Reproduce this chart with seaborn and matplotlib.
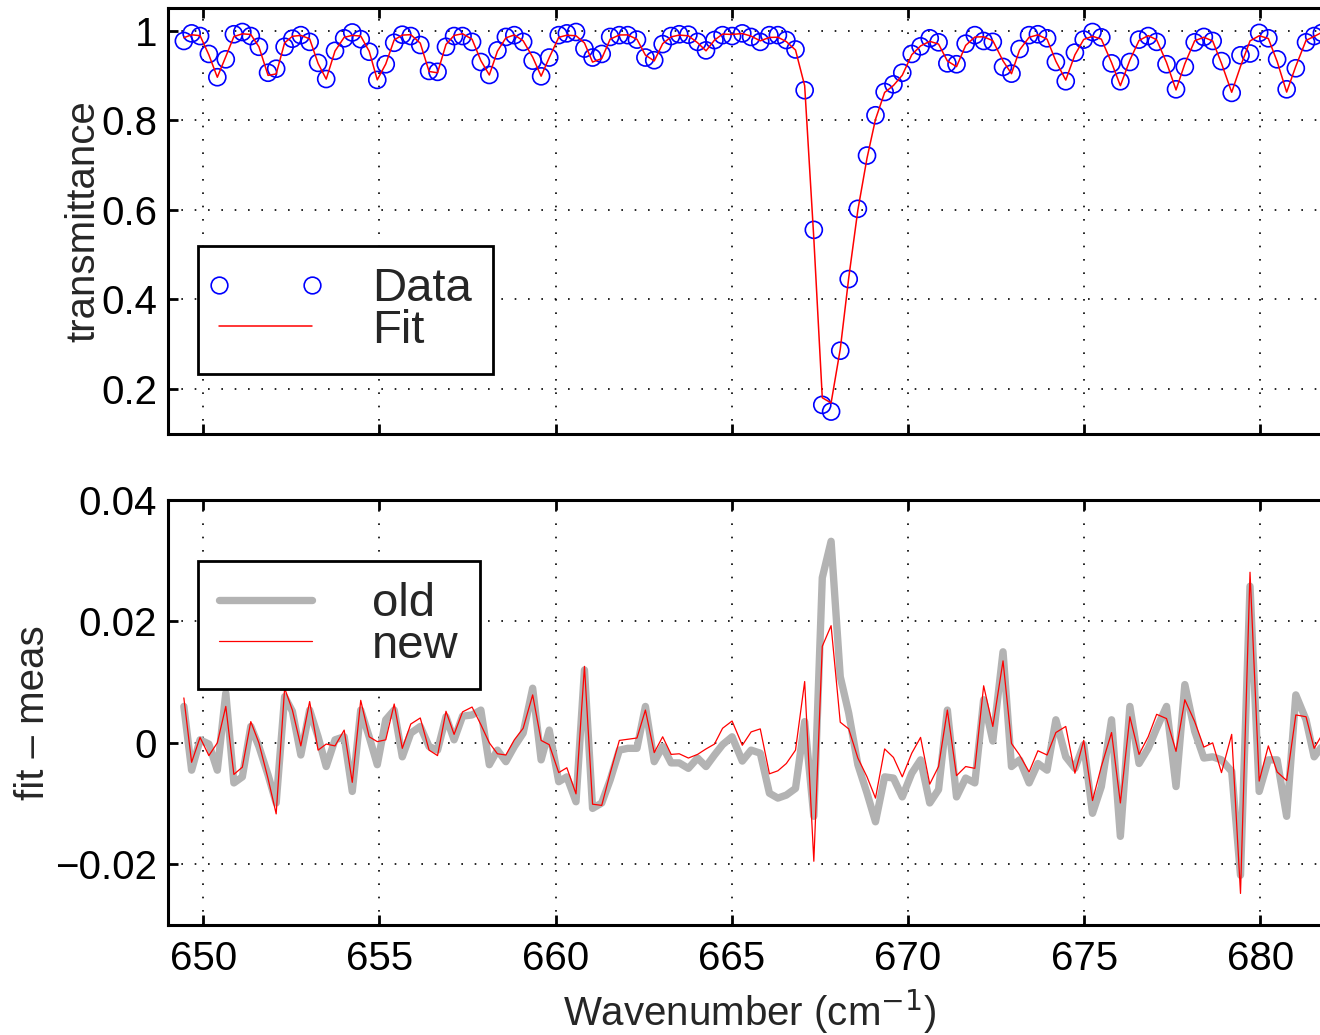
import numpy as np
import pandas as pd
import matplotlib
matplotlib.use("Agg")
import matplotlib.pyplot as plt
from matplotlib.lines import Line2D
from matplotlib.legend_handler import HandlerLine2D
import seaborn as sns

# ---------------- data ----------------
wavenumber = [
    649.45, 649.67, 649.91, 650.16, 650.40, 650.64, 650.87, 651.11, 651.35, 651.58,
    651.84, 652.07, 652.31, 652.53, 652.77, 653.02, 653.26, 653.49, 653.74, 654.00,
    654.23, 654.47, 654.71, 654.94, 655.18, 655.42, 655.65, 655.89, 656.16, 656.41,
    656.65, 656.89, 657.12, 657.36, 657.63, 657.88, 658.12, 658.35, 658.59, 658.83,
    659.08, 659.35, 659.59, 659.82, 660.09, 660.32, 660.58, 660.82, 661.05, 661.31,
    661.55, 661.81, 662.05, 662.31, 662.55, 662.80, 663.04, 663.28, 663.51, 663.77,
    664.03, 664.27, 664.51, 664.74, 665.01, 665.30, 665.55, 665.81, 666.07, 666.31,
    666.55, 666.81, 667.07, 667.33, 667.57, 667.82, 668.08, 668.32, 668.58, 668.84,
    669.08, 669.34, 669.59, 669.84, 670.11, 670.36, 670.62, 670.87, 671.12, 671.38,
    671.64, 671.90, 672.15, 672.41, 672.70, 672.94, 673.17, 673.44, 673.69, 673.95,
    674.20, 674.48, 674.74, 674.99, 675.24, 675.49, 675.78, 676.03, 676.30, 676.56,
    676.82, 677.06, 677.34, 677.61, 677.86, 678.14, 678.40, 678.65, 678.90, 679.19,
    679.44, 679.71, 679.97, 680.23, 680.48, 680.75, 681.01, 681.30, 681.53, 681.75,
]

transmittance = [
    0.977, 0.994, 0.988, 0.948, 0.896, 0.936, 0.992, 0.997, 0.988, 0.964,
    0.906, 0.915, 0.964, 0.982, 0.990, 0.975, 0.928, 0.892, 0.955, 0.983,
    0.996, 0.981, 0.953, 0.890, 0.925, 0.973, 0.991, 0.988, 0.968, 0.910,
    0.908, 0.964, 0.988, 0.988, 0.975, 0.930, 0.901, 0.956, 0.986, 0.990,
    0.975, 0.933, 0.898, 0.940, 0.990, 0.994, 0.997, 0.960, 0.940, 0.948,
    0.986, 0.990, 0.990, 0.980, 0.940, 0.934, 0.970, 0.988, 0.992, 0.991,
    0.975, 0.956, 0.979, 0.990, 0.988, 0.994, 0.986, 0.975, 0.990, 0.990,
    0.979, 0.958, 0.867, 0.555, 0.164, 0.149, 0.285, 0.445, 0.602, 0.721,
    0.811, 0.863, 0.880, 0.906, 0.948, 0.965, 0.983, 0.974, 0.927, 0.925,
    0.971, 0.990, 0.977, 0.975, 0.919, 0.904, 0.959, 0.990, 0.992, 0.983,
    0.930, 0.887, 0.951, 0.980, 0.997, 0.985, 0.927, 0.887, 0.930, 0.980,
    0.988, 0.975, 0.925, 0.869, 0.919, 0.974, 0.986, 0.977, 0.932, 0.861,
    0.945, 0.949, 0.995, 0.983, 0.936, 0.869, 0.916, 0.974, 0.988, 0.995,
]

resid_old = [
    0.0060, -0.0045, 0.0005, -0.0002, -0.0045, 0.0082, -0.0066, -0.0056, 0.0027, -0.0006,
    -0.0053, -0.0099, 0.0076, 0.0052, -0.0020, 0.0054, 0.0010, -0.0039, 0.0005, 0.0010,
    -0.0080, 0.0054, 0.0010, -0.0036, 0.0038, 0.0054, -0.0023, 0.0016, 0.0027, -0.0006,
    -0.0012, 0.0043, 0.0005, 0.0044, 0.0046, 0.0054, -0.0036, -0.0012, -0.0031, -0.0006,
    0.0016, 0.0090, -0.0028, 0.0021, -0.0064, -0.0056, -0.0097, 0.0120, -0.0108, -0.0099,
    -0.0061, -0.0012, -0.0009, -0.0009, 0.0060, -0.0031, -0.0006, -0.0033, -0.0033, -0.0042,
    -0.0025, -0.0039, -0.0020, -0.0003, 0.0010, -0.0030, -0.0012, -0.0017, -0.0083, -0.0091,
    -0.0086, -0.0075, 0.0035, -0.0121, 0.0272, 0.0332, 0.0109, 0.0049, -0.0036, -0.0083,
    -0.0130, -0.0056, -0.0058, -0.0089, -0.0050, -0.0028, -0.0099, -0.0077, 0.0054, -0.0089,
    -0.0058, -0.0066, 0.0071, 0.0003, 0.0150, -0.0039, -0.0028, -0.0066, -0.0034, -0.0045,
    0.0038, -0.0023, -0.0042, -0.0003, -0.0116, -0.0072, 0.0038, -0.0154, 0.0060, -0.0034,
    -0.0009, 0.0024, 0.0060, -0.0072, 0.0096, 0.0019, -0.0025, -0.0023, -0.0028, -0.0047,
    -0.0218, 0.0258, -0.0080, -0.0028, -0.0028, -0.0121, 0.0079, 0.0038, -0.0023, -0.0006,
]

resid_new = [
    0.0074, -0.0032, 0.0009, -0.0021, 0.0000, 0.0060, -0.0052, -0.0040, 0.0035, 0.0000,
    -0.0059, -0.0117, 0.0090, 0.0054, -0.0005, 0.0068, -0.0012, -0.0002, -0.0005, 0.0021,
    -0.0065, 0.0070, 0.0010, 0.0002, 0.0005, 0.0064, -0.0009, 0.0031, 0.0041, -0.0012,
    -0.0021, 0.0052, 0.0014, 0.0051, 0.0059, 0.0030, 0.0000, -0.0018, -0.0020, 0.0005,
    0.0024, 0.0079, 0.0004, -0.0003, -0.0049, -0.0041, -0.0084, 0.0126, -0.0101, -0.0103,
    -0.0050, 0.0004, 0.0006, 0.0008, 0.0054, -0.0016, 0.0010, -0.0019, -0.0018, -0.0025,
    -0.0019, -0.0010, -0.0002, 0.0024, 0.0036, -0.0004, 0.0018, 0.0023, -0.0051, -0.0046,
    -0.0034, -0.0012, 0.0101, -0.0195, 0.0159, 0.0193, 0.0034, 0.0023, -0.0025, -0.0056,
    -0.0091, -0.0010, -0.0024, -0.0056, -0.0017, 0.0009, -0.0068, -0.0039, 0.0054, -0.0054,
    -0.0039, -0.0042, 0.0094, 0.0027, 0.0135, -0.0001, -0.0020, -0.0048, -0.0013, -0.0020,
    0.0017, 0.0027, -0.0050, 0.0004, -0.0095, -0.0039, 0.0017, -0.0099, 0.0043, -0.0019,
    0.0010, 0.0047, 0.0040, -0.0014, 0.0071, 0.0035, -0.0007, 0.0000, -0.0049, 0.0014,
    -0.0248, 0.0281, -0.0063, -0.0005, -0.0048, -0.0062, 0.0046, 0.0043, -0.0009, 0.0013,
]

top_yticks = [0.2, 0.4, 0.6, 0.8, 1.0]
top_yticklabels = ["0.2", "0.4", "0.6", "0.8", "1"]
bot_yticks = [-0.02, 0.0, 0.02, 0.04]
bot_yticklabels = ["\u22120.02", "0", "0.02", "0.04"]
xticks = [650, 655, 660, 665, 670, 675, 680]
xticklabels = ["650", "655", "660", "665", "670", "675", "680"]

df = pd.DataFrame({
    "wn": wavenumber,
    "data": transmittance,
    "old": resid_old,
    "new": resid_new,
})
df["fit"] = df["data"] + df["new"]

# ---------------- style ----------------
sns.set_style("white")
plt.rcParams["font.family"] = ["Liberation Sans", "DejaVu Sans"]
plt.rcParams["axes.unicode_minus"] = True

TICK_FS = 29
LEG_FS = 34

fig = plt.figure(figsize=(13.2, 10.35), dpi=100)
W, H = 1320.0, 1035.0
left_px, right_px = 168.0, 1330.7
ax1 = fig.add_axes([left_px / W, 1 - 433.5 / H, (right_px - left_px) / W, (433.5 - 8.3) / H])
ax2 = fig.add_axes([left_px / W, 1 - 925.0 / H, (right_px - left_px) / W, (925.0 - 500.0) / H])

# top panel
sns.scatterplot(data=df, x="wn", y="data", ax=ax1, marker="o", s=150,
                facecolors="none", edgecolor="#0000ff", linewidth=1.2, zorder=3,
                legend=False)
sns.lineplot(data=df, x="wn", y="fit", ax=ax1, color="#ff0000", linewidth=1.1,
             estimator=None, sort=False, zorder=4, legend=False)

# bottom panel
sns.lineplot(data=df, x="wn", y="old", ax=ax2, color="#b3b3b3", linewidth=5.3,
             estimator=None, sort=False, zorder=3, legend=False)
sns.lineplot(data=df, x="wn", y="new", ax=ax2, color="#ff0000", linewidth=0.9,
             estimator=None, sort=False, zorder=4, legend=False)

for ax in (ax1, ax2):
    ax.set_xlim(649.0, 682.0)
    ax.set_xticks(xticks)
    ax.grid(True, color="black", linestyle=(0, (1.0, 7.0)), linewidth=1.2)
    ax.set_axisbelow(True)
    ax.tick_params(axis="both", which="major", direction="in", length=7.5,
                   width=2.0, labelsize=TICK_FS, top=True, right=True,
                   bottom=True, left=True, pad=8, colors="black")
    for s in ax.spines.values():
        s.set_linewidth(2.2)
        s.set_color("black")
ax2.tick_params(axis="x", pad=11)

ax1.set_ylim(0.1, 1.05)
ax1.set_yticks(top_yticks)
ax1.set_yticklabels(top_yticklabels)
ax1.set_xticklabels([])
ax1.set_xlabel("")
ax1.set_ylabel("transmittance", fontsize=TICK_FS)
ax1.yaxis.set_label_coords(-0.0568, 0.50)

ax2.set_ylim(-0.03, 0.04)
ax2.set_yticks(bot_yticks)
ax2.set_yticklabels(bot_yticklabels)
ax2.set_xticklabels(xticklabels)
ax2.set_xlabel("Wavenumber (cm$^{-1}$)", fontsize=TICK_FS, labelpad=7)
ax2.set_ylabel("fit \u2013 meas", fontsize=TICK_FS)
ax2.yaxis.set_label_coords(-0.0998, 0.50)

# legends (MATLAB-like: handle spans the whole handle box)
hmap = {Line2D: HandlerLine2D(marker_pad=0.0)}
leg_kw = dict(loc="upper left", fontsize=LEG_FS, numpoints=2,
              handlelength=1.97, handletextpad=1.27, labelspacing=-0.05,
              borderpad=0.45, borderaxespad=0.0, fancybox=False,
              framealpha=1.0, edgecolor="black", handler_map=hmap)

h_data = Line2D([0], [0], marker="o", linestyle="none", markerfacecolor="none",
                markeredgecolor="#0000ff", markersize=12, markeredgewidth=1.2)
h_fit = Line2D([0], [0], color="#ff0000", linewidth=1.1)
leg1 = ax1.legend([h_data, h_fit], ["Data", "Fit"],
                  bbox_to_anchor=(0.0258, 0.441), **leg_kw)
leg1.get_frame().set_linewidth(2.0)

h_old = Line2D([0], [0], color="#b3b3b3", linewidth=5.3)
h_new = Line2D([0], [0], color="#ff0000", linewidth=0.9)
leg2 = ax2.legend([h_old, h_new], ["old", "new"],
                  bbox_to_anchor=(0.0258, 0.8565), **leg_kw)
leg2.get_frame().set_linewidth(2.0)

fig.savefig("out.png", dpi=100)
